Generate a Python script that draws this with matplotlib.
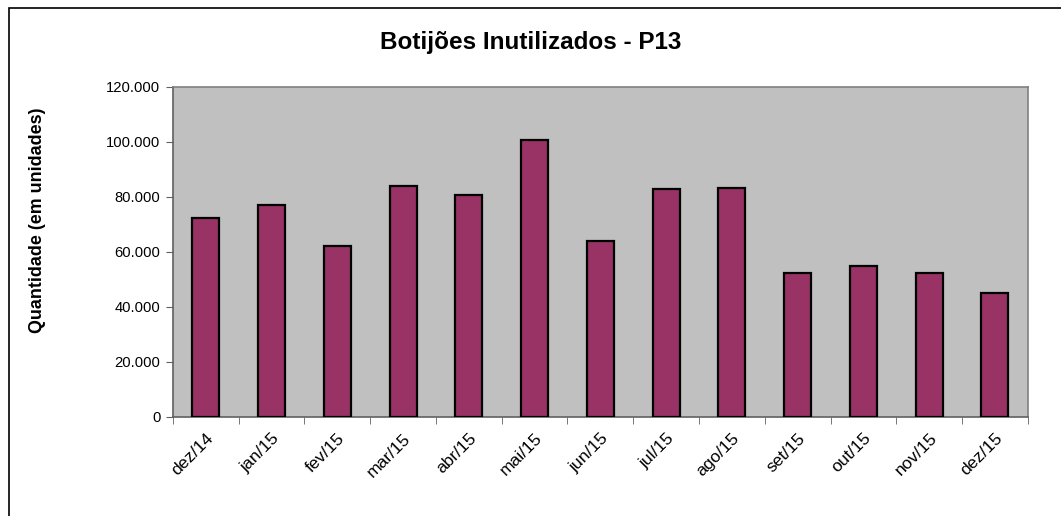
import numpy as np
import matplotlib.pyplot as plt
from matplotlib.ticker import FuncFormatter, FixedLocator
from matplotlib.patches import Rectangle

plt.rcParams['font.family'] = ['Liberation Sans', 'DejaVu Sans']

meses = ['dez/14', 'jan/15', 'fev/15', 'mar/15', 'abr/15', 'mai/15', 'jun/15',
         'jul/15', 'ago/15', 'set/15', 'out/15', 'nov/15', 'dez/15']
quantidade = [72300, 77200, 62000, 83800, 80600, 100700, 64000,
              82900, 83100, 52300, 54800, 52200, 45100]

fig = plt.figure(figsize=(10.61, 5.16), dpi=100)
ax = fig.add_axes([0.163, 0.1924, 0.8057, 0.639])

x = np.arange(len(meses))
ax.bar(x, quantidade, width=0.41, color='#993366', edgecolor='black', linewidth=1.6, zorder=3)

ax.set_facecolor('#C0C0C0')
ax.set_xlim(-0.5, len(meses) - 0.5)
ax.set_ylim(0, 120000)
ax.set_yticks(np.arange(0, 120001, 20000))
ax.yaxis.set_major_formatter(FuncFormatter(lambda v, p: f'{int(v):,}'.replace(',', '.')))

ax.set_xticks(x)
ax.set_xticklabels(meses, rotation=45, ha='right', rotation_mode='anchor', fontsize=12.5)
ax.xaxis.set_minor_locator(FixedLocator(np.arange(-0.5, len(meses), 1.0)))
ax.tick_params(axis='x', which='major', length=0, pad=10)
ax.tick_params(axis='x', which='minor', length=5, color='#606060', direction='out')
ax.tick_params(axis='y', length=5, color='#606060', labelsize=10.6, pad=4)

for s in ['left', 'bottom']:
    ax.spines[s].set_color('#606060')
    ax.spines[s].set_linewidth(1.2)
for s in ['top', 'right']:
    ax.spines[s].set_color('#808080')
    ax.spines[s].set_linewidth(1.2)

fig.text(0.5, 1 - 43 / 516, 'Botijões Inutilizados - P13', ha='center', va='center',
         fontsize=17.5, fontweight='bold')
fig.text(38 / 1061, 1 - 220 / 516, 'Quantidade (em unidades)', rotation=90,
         ha='center', va='center', fontsize=12.9, fontweight='bold')

fig.patches.append(Rectangle((9 / 1061, -0.1), 1.2, 1 - 8 / 516 + 0.1,
                             transform=fig.transFigure, fill=False,
                             edgecolor='black', linewidth=1.2))

fig.savefig('out.png', dpi=100)
